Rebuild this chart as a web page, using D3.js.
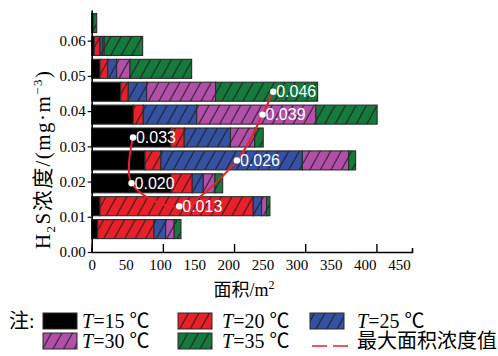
<!DOCTYPE html>
<html>
<head>
<meta charset="utf-8">
<script src="https://cdn.jsdelivr.net/npm/d3@7"></script>
<style>
  body { margin: 0; background: #fff; }
  svg { display: block; }
</style>
</head>
<body>
<svg id="chart" width="498" height="356"></svg>
<script>
// H2S concentration of each bar (mg/m3)
const concentrations = [0.0065, 0.013, 0.0195, 0.026, 0.0325, 0.039, 0.0455, 0.052, 0.0585, 0.065];
// area (m2) of each temperature, per bar
const t15 = [8.4, 11.7, 111.4, 74.9, 111, 58.4, 40.7, 11.7, 3.6, 0.5];
const t20 = [79, 215.3, 29.9, 22.4, 19, 14.1, 10.7, 10.8, 8.1, 0.5];
const t25 = [16.5, 11.7, 15.5, 198.7, 65, 75, 25.8, 12.5, 3.8, 0.5];
const t30 = [12, 7.1, 16.4, 65, 34, 167.5, 96.8, 18.8, 2.0, 0.5];
const t35 = [9.5, 4.6, 10.8, 9.8, 12, 86, 143.4, 86.6, 54.1, 5];
const seriesTemps = ["=15 ℃", "=20 ℃", "=25 ℃", "=30 ℃", "=35 ℃"];

// max area concentration curve
const maxConc = [0.0325, 0.0195, 0.013, 0.026, 0.039, 0.0455];
const maxArea = [58, 56, 123, 204, 240, 255];
const maxLabels = ["0.033", "0.020", "0.013", "0.026", "0.039", "0.046"];

const xTicks = [0, 50, 100, 150, 200, 250, 300, 350, 400, 450];
const yTicks = [0, 0.01, 0.02, 0.03, 0.04, 0.05, 0.06];

// Constants
const colours = ["#000000", "#e8202a", "#3451a2", "#b24fa8", "#157a3c"];
const hatched = [false, true, true, true, true];
const barThickness = 0.0054;
const serif = "'Liberation Serif', 'Times New Roman', serif";
const cjk = "'Liberation Serif', 'Noto Sans CJK SC', serif";

const svg = d3.select("#chart");

const x = d3.scaleLinear().domain([0, 450]).range([91.7, 412]);
const y = d3.scaleLinear().domain([0, 0.0687]).range([252, 10]);
// the printed tick labels are squeezed a little relative to the tick marks
const xLabel = d3.scaleLinear().domain([0, 450]).range([91.7, 399]);

// hatch patterns
const defs = svg.append("defs");
colours.forEach((c, i) => {
    const p = defs.append("pattern")
        .attr("id", "hatch" + i)
        .attr("patternUnits", "userSpaceOnUse")
        .attr("width", 10.5)
        .attr("height", 20)
        .attr("patternTransform", "skewX(-29)");
    p.append("rect").attr("width", 10.5).attr("height", 20).attr("fill", c);
    if (hatched[i]) {
        p.append("line")
            .attr("x1", 5).attr("x2", 5)
            .attr("y1", -1).attr("y2", 21)
            .attr("stroke", "#1a1a1a")
            .attr("stroke-width", 1.1);
    }
});

// stack data
const rows = concentrations.map((c, i) => ({ conc: c, vals: [t15[i], t20[i], t25[i], t30[i], t35[i]] }));
const segments = [];
rows.forEach(r => {
    let start = 0;
    r.vals.forEach((v, k) => {
        segments.push({ conc: r.conc, x0: start, x1: start + v, k: k });
        start += v;
    });
});

// bars
svg.append("g").selectAll("rect")
    .data(segments)
    .enter()
    .append("rect")
    .attr("x", d => x(d.x0))
    .attr("width", d => x(d.x1) - x(d.x0))
    .attr("y", d => y(d.conc + barThickness / 2))
    .attr("height", d => y(d.conc - barThickness / 2) - y(d.conc + barThickness / 2))
    .attr("fill", d => `url(#hatch${d.k})`)
    .attr("stroke", "#2a2a2a")
    .attr("stroke-width", 1.1);

// max area curve
const pts = maxConc.map((c, i) => ({ conc: c, area: maxArea[i], label: maxLabels[i] }));
const line = d3.line()
    .x(d => x(d.area))
    .y(d => y(d.conc))
    .curve(d3.curveCatmullRom.alpha(0.5));

svg.append("path")
    .datum(pts)
    .attr("d", line)
    .attr("fill", "none")
    .attr("stroke", "#e8202a")
    .attr("stroke-width", 2);

svg.selectAll(".maxDots")
    .data(pts)
    .enter()
    .append("circle")
    .attr("class", "maxDots")
    .attr("cx", d => x(d.area))
    .attr("cy", d => y(d.conc))
    .attr("r", 3.2)
    .attr("fill", "#fff");

svg.selectAll(".maxLabels")
    .data(pts)
    .enter()
    .append("text")
    .attr("class", "maxLabels")
    .attr("x", d => x(d.area) + 3)
    .attr("y", d => y(d.conc) + 5.5)
    .attr("fill", "#fff")
    .style("font-family", "'Liberation Sans', Arial, sans-serif")
    .style("font-size", "16px")
    .text(d => d.label);

// axes
const xAxis = svg.append("g")
    .attr("transform", `translate(0,${y(0)})`)
    .call(d3.axisBottom(xLabel).tickValues(xTicks).tickSize(0).tickPadding(7).tickFormat(d3.format("d")));
xAxis.select(".domain").remove();
xAxis.selectAll("text")
    .style("font-family", serif)
    .style("font-size", "15px")
    .attr("fill", "#000");

svg.append("g")
    .attr("transform", `translate(0,${y(0)})`)
    .call(d3.axisBottom(x).tickValues([0, 100, 200, 300, 400]).tickSize(-8).tickSizeOuter(-4).tickFormat(""))
    .call(g => g.select(".domain").attr("stroke", "#000").attr("stroke-width", 1.6))
    .call(g => g.selectAll(".tick line").attr("stroke", "#000").attr("stroke-width", 1.4));

const yAxis = svg.append("g")
    .attr("transform", `translate(${x(0)},0)`)
    .call(d3.axisLeft(y).tickValues(yTicks).tickSize(4).tickSizeOuter(0).tickPadding(2).tickFormat(d3.format(".2f")));
yAxis.select(".domain").attr("stroke", "#000").attr("stroke-width", 1.6);
yAxis.selectAll(".tick line").attr("stroke", "#000").attr("stroke-width", 1.2);
yAxis.selectAll("text")
    .style("font-family", serif)
    .style("font-size", "15px")
    .attr("fill", "#000");

// axis titles
svg.append("text")
    .attr("x", 244)
    .attr("y", 296)
    .attr("text-anchor", "middle")
    .style("font-family", cjk)
    .style("font-size", "18px")
    .html("面积/m<tspan dy='-7' font-size='12px'>2</tspan>");

svg.append("text")
    .attr("transform", "translate(50,160) rotate(-90)")
    .attr("text-anchor", "middle")
    .attr("textLength", 178)
    .attr("lengthAdjust", "spacing")
    .style("font-family", cjk)
    .style("font-size", "21px")
    .html("H<tspan dy='5' font-size='13px'>2</tspan><tspan dy='-5'>S浓度/(mg·m</tspan><tspan dy='-8' font-size='13px'>−3</tspan><tspan dy='8'>)</tspan>");

// legend
const legend = svg.append("g").style("font-family", cjk).style("font-size", "20px");
legend.append("text").attr("x", 9).attr("y", 328).text("注:");

const legendPos = [[43, 313, 82], [178, 313, 222], [310, 313, 357], [43, 333, 82], [178, 333, 222]];
seriesTemps.forEach((name, i) => {
    const [lx, ly, tx] = legendPos[i];
    legend.append("rect")
        .attr("x", lx).attr("y", ly)
        .attr("width", 34).attr("height", 16)
        .attr("fill", `url(#hatch${i})`)
        .attr("stroke", "#2a2a2a")
        .attr("stroke-width", 1);
    const t = legend.append("text").attr("x", tx).attr("y", ly + 15);
    t.append("tspan").style("font-style", "italic").text("T");
    t.append("tspan").text(name);
});

legend.append("line")
    .attr("x1", 312).attr("x2", 348)
    .attr("y1", 346).attr("y2", 346)
    .attr("stroke", "#e8202a")
    .attr("stroke-width", 1.6)
    .attr("stroke-dasharray", "15,6");
legend.append("text").attr("x", 357).attr("y", 348).text("最大面积浓度值");
</script>
</body>
</html>
